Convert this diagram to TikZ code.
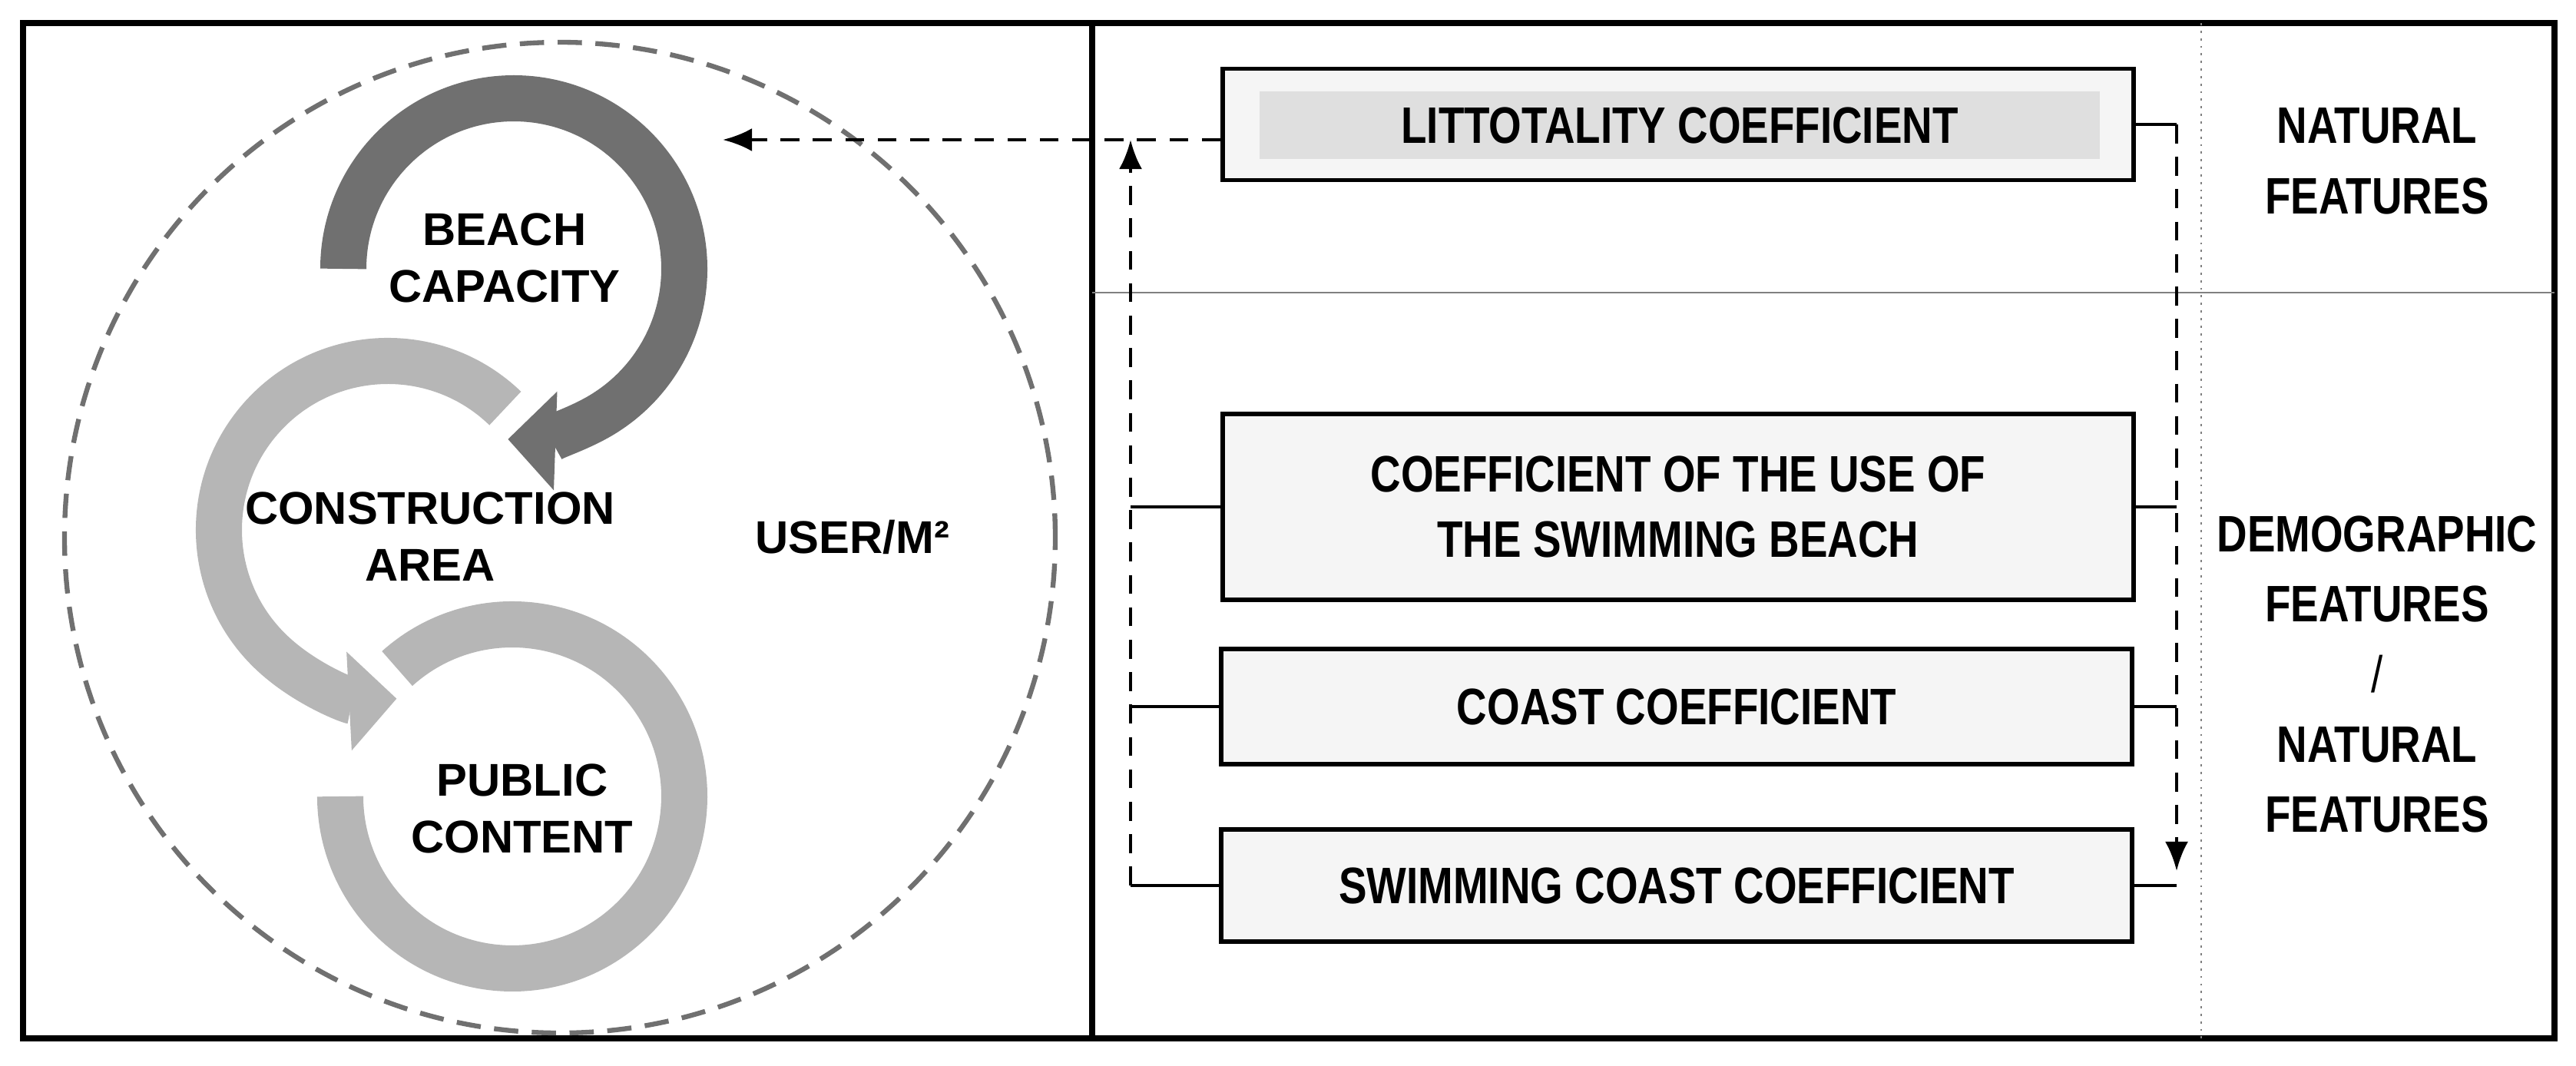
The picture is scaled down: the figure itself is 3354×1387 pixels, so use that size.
\documentclass[tikz,border=0pt]{standalone}
\usepackage{fontspec}
\setmainfont{Liberation Sans}
\newfontfamily\narrowfont{Liberation Sans}[FakeStretch=0.82]
\usepackage{tikz}
\usetikzlibrary{positioning, arrows.meta}
\definecolor{ringdark}{HTML}{707070}
\definecolor{ringlight}{HTML}{B6B6B6}
\tikzset{
  coefbox/.style={draw, line width=1.6pt, fill=gray!8, minimum width=11.85cm, font=\narrowfont\bfseries\fontsize{19}{24}\selectfont, align=center},
  lbl/.style={font=\bfseries\fontsize{17}{21}\selectfont, align=center, inner sep=0pt},
  flow/.style={dashed, dash pattern=on 7pt off 5pt, line width=1.3pt},
  stub/.style={line width=1pt},
}
\begin{document}
\begin{tikzpicture}[x=0.01cm, y=0.01cm, >={Latex[length=0.38cm,width=0.3cm]}]
  \useasboundingbox (0,0) rectangle (3354,-1387);
  % Frame
  \draw[line width=2.2pt] (30,-30) rectangle (3326,-1352);
  \draw[line width=2.2pt] (1422,-30) -- (1422,-1352);
  \draw[gray, line width=0.8pt] (1422,-381) -- (3326,-381);
  \draw[gray, dotted, line width=0.8pt] (2866,-30) -- (2866,-1352);
  % Circle
  \draw[ringdark, dashed, dash pattern=on 9pt off 5pt, line width=1.8pt] (729,-700) circle[radius=645];
  % Rings
  \draw[ringlight, line width=0.6cm, -{Triangle[width=1.25cm,length=0.62cm]}] (657.8,-531.7) arc[start angle=46, end angle=273, radius=220];
  \draw[ringlight, line width=0.6cm] (517.1,-870.5) arc[start angle=132, end angle=-180, radius=224];
  \draw[ringdark, line width=0.6cm, -{Triangle[width=1.25cm,length=0.62cm]}] (447,-350) arc[start angle=180, end angle=-92, radius=222];
  % Labels
  \node[lbl] (beach) at (657,-336) {BEACH\\CAPACITY};
  \node[lbl] (constr) at (560,-699) {CONSTRUCTION\\AREA};
  \node[lbl] (public) at (680,-1053) {PUBLIC\\CONTENT};
  \node[lbl] (user) at (1110,-699) {USER/M²};
  % Coefficients
  \node[coefbox, minimum height=1.45cm] (lit) at (2185,-162) {};
  \node[fill=gray!25, minimum width=10.93cm, minimum height=0.87cm, font=\narrowfont\bfseries\fontsize{19}{24}\selectfont] (littext) at (2187,-163) {LITTOTALITY COEFFICIENT};
  \node[coefbox, minimum height=2.42cm] (use) at (2185,-660) {COEFFICIENT OF THE USE OF\\THE SWIMMING BEACH};
  \node[coefbox, minimum height=1.5cm] (coast) at (2183,-920) {COAST COEFFICIENT};
  \node[coefbox, minimum height=1.46cm] (swim) at (2183,-1153) {SWIMMING COAST COEFFICIENT};
  % Features
  \node[lbl, font=\narrowfont\bfseries\fontsize{19}{26}\selectfont] (nat) at (3095,-210) {NATURAL\\FEATURES};
  \node[lbl, font=\narrowfont\bfseries\fontsize{19}{26}\selectfont] (demo) at (3095,-878) {DEMOGRAPHIC\\FEATURES\\{\mdseries/}\\NATURAL\\FEATURES};
  % Connectors
  \coordinate (lt) at (1472,-182);
  \coordinate (lb) at (1472,-1153);
  \coordinate (rt) at (2834,-162);
  \coordinate (rb) at (2834,-1134);
  \coordinate (ring) at (941,-182);
  \draw[flow, ->] (lb) -- (lt);
  \draw[flow, ->] (lit.west |- lt) -- (ring);
  \draw[flow, ->] (rt) -- (rb);
  \foreach \b in {use, coast, swim}
    \draw[stub] (\b.west) -- (\b.west -| lt);
  \foreach \b in {lit, use, coast, swim}
    \draw[stub] (\b.east) -- (\b.east -| rt);
\end{tikzpicture}
\end{document}
